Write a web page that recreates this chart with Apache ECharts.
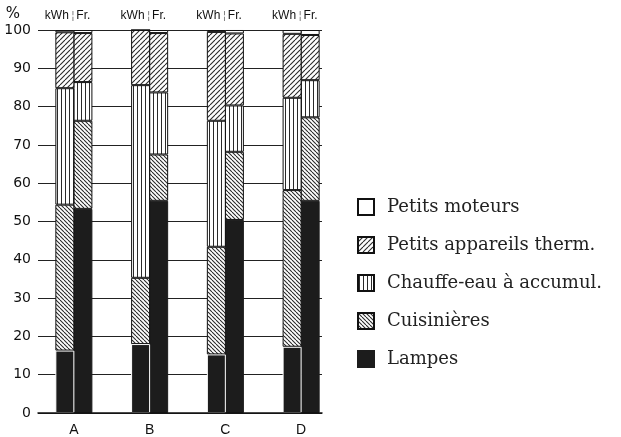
<!DOCTYPE html>
<html>
<head>
<meta charset="utf-8">
<script src="https://cdn.jsdelivr.net/npm/echarts@6/dist/echarts.min.js"></script>
<style>
  html, body { margin: 0; padding: 0; background: #fff; }
  #chart { width: 621px; height: 437px; }
</style>
</head>
<body>
<div id="chart"></div>
<script>
// Categories and share (%) of each use, per district: consumption (kWh) and revenue (Fr.)
const categories = ['A', 'B', 'C', 'D'];
const yTicks = [0, 10, 20, 30, 40, 50, 60, 70, 80, 90, 100];

const lampesKwh      = [16.3, 18.0, 15.3, 17.3];
const lampesFr       = [53.3, 55.4, 50.4, 55.4];
const cuisinieresKwh = [38.1, 17.3, 28.1, 40.9];
const cuisinieresFr  = [23.0, 12.1, 17.8, 21.8];
const chauffeEauKwh  = [30.4, 50.3, 32.9, 24.1];
const chauffeEauFr   = [10.1, 16.2, 12.1, 9.7];
const thermKwh       = [14.6, 14.4, 23.2, 16.7];
const thermFr        = [12.8, 15.5, 18.8, 11.8];
const moteursKwh     = [0.6, 0.0, 0.5, 1.0];
const moteursFr      = [0.8, 0.8, 0.9, 1.3];

const legendOrder = ['Petits moteurs', 'Petits appareils therm.', 'Chauffe-eau à accumul.', 'Cuisinières', 'Lampes'];

// Hatch fills drawn on small tiles
function hatch(kind, p) {
  const c = document.createElement('canvas');
  c.width = p; c.height = p;
  const g = c.getContext('2d');
  g.fillStyle = '#fff';
  g.fillRect(0, 0, p, p);
  g.strokeStyle = '#2a2a2a';
  g.fillStyle = '#2a2a2a';
  g.lineWidth = 1.1;
  if (kind === 'vertical') {
    g.fillRect(1, 0, 1, p);
  } else {
    for (let k = -1; k <= 1; k++) {
      g.beginPath();
      if (kind === 'slash') { g.moveTo(k * p, p); g.lineTo(k * p + p, 0); }
      else { g.moveTo(k * p, 0); g.lineTo(k * p + p, p); }
      g.stroke();
    }
  }
  return { image: c, repeat: 'repeat' };
}

const styles = {
  'Lampes': { color: '#1c1c1c', borderColor: '#1c1c1c', borderWidth: 1 },
  'Cuisinières': { color: hatch('backslash', 4), borderColor: '#111', borderWidth: 1 },
  'Chauffe-eau à accumul.': { color: hatch('vertical', 4), borderColor: '#111', borderWidth: 1 },
  'Petits appareils therm.': { color: hatch('slash', 5), borderColor: '#111', borderWidth: 1 },
  'Petits moteurs': { color: '#fff', borderColor: '#111', borderWidth: 1 }
};

const headFont = { fontFamily: 'Liberation Sans', fontSize: 12, color: '#111' };

// kWh bars sit on the left and are drawn above the Fr. bars
const stacks = [
  { id: 'kWh', z: 3, parts: [['Lampes', lampesKwh], ['Cuisinières', cuisinieresKwh], ['Chauffe-eau à accumul.', chauffeEauKwh], ['Petits appareils therm.', thermKwh], ['Petits moteurs', moteursKwh]],
    head: { formatter: 'kWh', offset: [-8, 0] } },
  { id: 'Fr', z: 2, parts: [['Lampes', lampesFr], ['Cuisinières', cuisinieresFr], ['Chauffe-eau à accumul.', chauffeEauFr], ['Petits appareils therm.', thermFr], ['Petits moteurs', moteursFr]],
    head: { formatter: '{s|¦}{b|Fr.}', offset: [-2, 0] } }
];

const series = [];
stacks.forEach(s => {
  s.parts.forEach(([name, values], i) => {
    const top = i === s.parts.length - 1;
    const item = { ...styles[name] };
    // a thin white seam between two neighbouring black kWh / Fr. columns
    if (name === 'Lampes' && s.id === 'kWh') item.borderColor = '#fff';
    series.push({
      type: 'bar',
      name: name,
      stack: s.id,
      xAxisIndex: 1,
      yAxisIndex: 1,
      barWidth: 19,
      barGap: '-5%',
      z: s.z,
      itemStyle: item,
      emphasis: { disabled: true },
      label: top ? {
        show: true,
        position: 'top',
        distance: 8,
        formatter: s.head.formatter,
        offset: s.head.offset,
        ...headFont,
        rich: {
          s: { fontFamily: 'Liberation Sans', fontSize: 11, color: '#777', padding: [0, 2, 0, 0] },
          b: headFont
        }
      } : { show: false },
      data: values
    });
  });
});

const chart = echarts.init(document.getElementById('chart'), null, { renderer: 'canvas' });
chart.setOption({
  animation: false,
  backgroundColor: '#fff',
  grid: [
    { left: 38, right: 299, top: 30, bottom: 24 },
    { left: 36, width: 303, top: 30, bottom: 24 }
  ],
  legend: {
    orient: 'vertical',
    left: 352,
    top: 193,
    icon: 'rect',
    itemWidth: 16,
    itemHeight: 16,
    itemGap: 20,
    selectedMode: false,
    data: legendOrder.map(n => n === 'Lampes'
      ? { name: n, itemStyle: { borderColor: '#1c1c1c' } }
      : { name: n }),
    textStyle: { fontFamily: 'DejaVu Serif', fontSize: 18, color: '#222', padding: [0, 0, 0, 8] }
  },
  xAxis: [
    {
      gridIndex: 0, type: 'value', min: 0, max: 1, z: 5,
      axisLine: { show: true, lineStyle: { color: '#111', width: 1.5 } },
      axisTick: { show: false }, axisLabel: { show: false }, splitLine: { show: false }
    },
    {
      gridIndex: 1, type: 'category', data: categories, position: 'bottom',
      axisLine: { show: false }, axisTick: { show: false },
      axisLabel: { margin: 10, fontFamily: 'Liberation Sans', fontSize: 14, color: '#111' }
    }
  ],
  yAxis: [
    {
      gridIndex: 0, type: 'value', min: yTicks[0], max: yTicks[yTicks.length - 1], interval: 10,
      name: '%', nameLocation: 'end', nameGap: 8,
      nameTextStyle: { fontFamily: 'DejaVu Sans', fontSize: 15, color: '#111', align: 'right', padding: [0, 18, 0, 0] },
      axisLine: { show: false }, axisTick: { show: false },
      axisLabel: { margin: 7, fontFamily: 'DejaVu Sans', fontSize: 14, color: '#111' },
      splitLine: { show: true, lineStyle: { color: '#222', width: 1 } }
    },
    {
      gridIndex: 1, type: 'value', min: 0, max: 100, show: false
    }
  ],
  series: series
});
</script>
</body>
</html>
